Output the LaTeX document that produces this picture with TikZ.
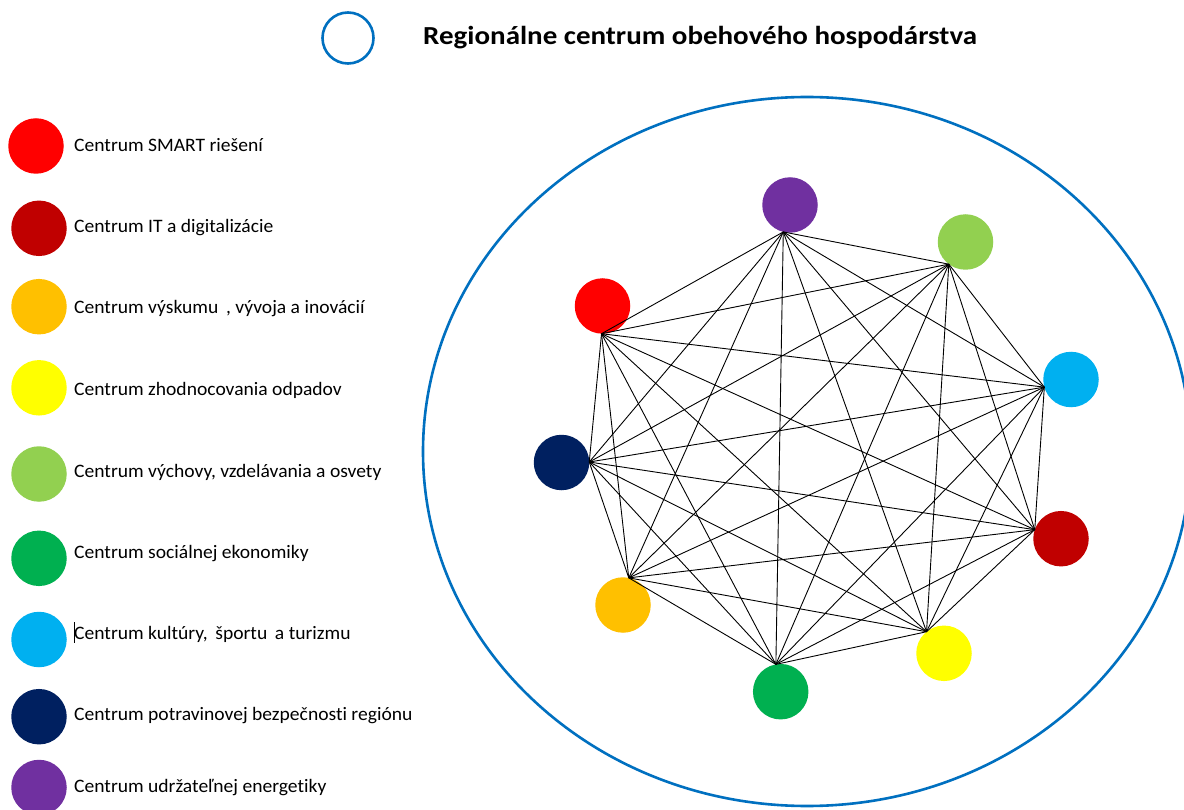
\documentclass[tikz,border=0pt]{standalone}
\usepackage{fontspec}
\setmainfont[Ligatures=NoCommon]{Carlito}
\usetikzlibrary{shapes.geometric}
\definecolor{cRed}{HTML}{FF0000}
\definecolor{cDred}{HTML}{C00000}
\definecolor{cOrange}{HTML}{FFC000}
\definecolor{cYellow}{HTML}{FFFF00}
\definecolor{cLgreen}{HTML}{92D050}
\definecolor{cGreen}{HTML}{00B050}
\definecolor{cCyan}{HTML}{00B0F0}
\definecolor{cNavy}{HTML}{002060}
\definecolor{cPurple}{HTML}{7030A0}
\definecolor{cBlue}{HTML}{0070C0}
\begin{document}
\begin{tikzpicture}[x=1pt,y=-1pt,
  dot/.style={circle,minimum size=55.5pt,inner sep=0pt,outer sep=0pt,draw=none},
  legtext/.style={anchor=base west,inner sep=0pt,xscale=1.03,font=\fontsize{19}{22}\selectfont},
  edge/.style={draw=black,line width=0.9pt},
  ring/.style={draw=cBlue,line width=2.6pt}]
\useasboundingbox[fill=white] (0,0) rectangle (1184,810);

% title
\node[ring,circle,minimum size=51pt,inner sep=0pt] (key) at (348,38) {};
\node[anchor=base west,inner sep=0pt,xscale=1.115,font=\fontsize{26}{30}\selectfont\bfseries] (title) at (423,45) {Regionálne centrum obehového hospodárstva};

% big ring
\node[ring,ellipse,minimum width=768pt,minimum height=709pt,inner sep=0pt] (big) at (807,451.5) {};

% legend
\node[dot,fill=cRed]    (l1) at (36,146) {};
\node[dot,fill=cDred]   (l2) at (39,228.3) {};
\node[dot,fill=cOrange] (l3) at (39,306.7) {};
\node[dot,fill=cYellow] (l4) at (39,387.8) {};
\node[dot,fill=cLgreen] (l5) at (39,474) {};
\node[dot,fill=cGreen]  (l6) at (39,558.3) {};
\node[dot,fill=cCyan]   (l7) at (39,639.5) {};
\node[dot,fill=cNavy]   (l8) at (39,716.7) {};
\node[dot,fill=cPurple] (l9) at (39,787.5) {};

\node[legtext] (t1) at (74,151.5) {Centrum SMART riešení};
\node[legtext] (t2) at (74,232.5) {Centrum IT a digitalizácie};
\node[legtext] (t3) at (74,313.5) {Centrum výskumu\, , vývoja a inovácií};
\node[legtext] (t4) at (74,395.5) {Centrum zhodnocovania odpadov};
\node[legtext] (t5) at (74,477.5) {Centrum výchovy, vzdelávania a osvety};
\node[legtext] (t6) at (74,558.5) {Centrum sociálnej ekonomiky};
\node[legtext] (t7) at (74,639.5) {Centrum kultúry,\, športu\, a turizmu};
\node[legtext] (t8) at (74,720.5) {Centrum potravinovej bezpečnosti regiónu};
\node[legtext] (t9) at (74,792.5) {Centrum udržateľnej energetiky};
\coordinate (cur1) at (74.5,622);
\coordinate (cur2) at (74.5,643);
\draw[line width=1.3pt] (cur1) -- (cur2);

% graph nodes
\node[dot,fill=cPurple] (pu) at (790,205) {};
\node[dot,fill=cLgreen] (lg) at (965.5,242) {};
\node[dot,fill=cCyan]   (cy) at (1071,379.5) {};
\node[dot,fill=cDred]   (dr) at (1061,538.7) {};
\node[dot,fill=cYellow] (ye) at (944,653.3) {};
\node[dot,fill=cGreen]  (gr) at (780.7,691.7) {};
\node[dot,fill=cOrange] (or) at (623,605) {};
\node[dot,fill=cNavy]   (na) at (561.5,462.5) {};
\node[dot,fill=cRed]    (re) at (602.5,306) {};

\coordinate (p1) at (pu.-104);
\coordinate (p2) at (lg.-127);
\coordinate (p3) at (cy.-164);
\coordinate (p4) at (dr.161);
\coordinate (p5) at (ye.129);
\coordinate (p6) at (gr.100);
\coordinate (p7) at (or.78);
\coordinate (p8) at (na.1);
\coordinate (p9) at (re.-92);

\foreach \i in {1,...,8}{
  \pgfmathtruncatemacro{\s}{\i+1}
  \foreach \j in {\s,...,9}{
    \draw[edge] (p\i) -- (p\j);
  }
}
\end{tikzpicture}
\end{document}
